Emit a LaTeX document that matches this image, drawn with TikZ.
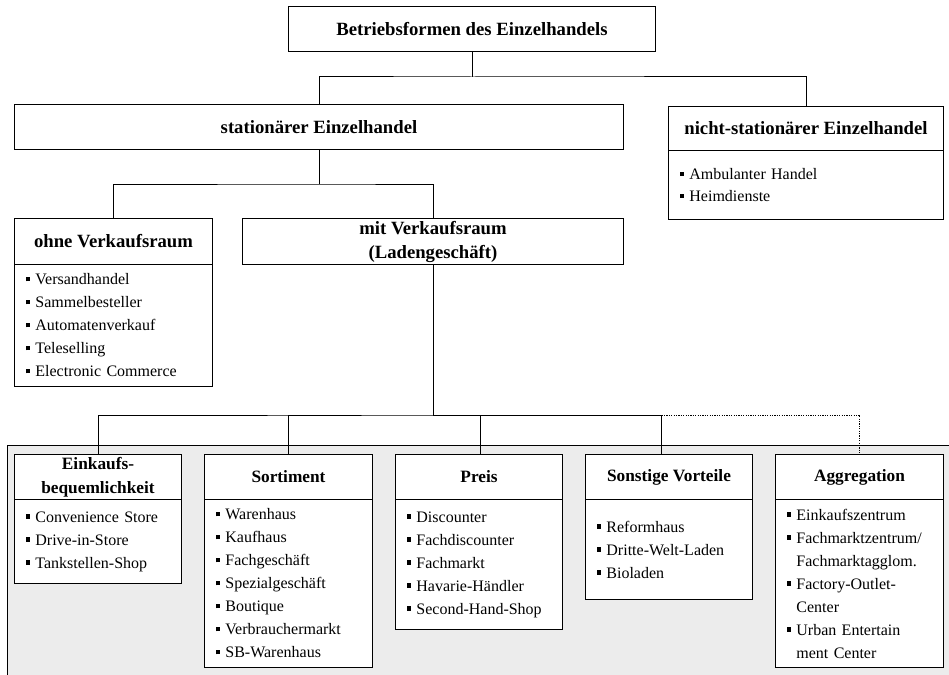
\documentclass[tikz,border=0pt]{standalone}
\usepackage{fontspec}
\setmainfont{Liberation Serif}
\definecolor{panelgray}{RGB}{236,236,236}
% small square bullet followed by its gap
\newcommand\bul{\makebox[0.62em][l]{\rule[0.22em]{0.27em}{0.27em}}}
\newcommand\ind{\hspace*{0.62em}}
\begin{document}
\begin{tikzpicture}[x=1pt,y=-1pt,
  frame/.style={line width=1pt},
  head/.style={draw, line width=1pt, fill=white, inner sep=0pt, anchor=north west,
    align=center, font=\fontsize{18.7}{24}\selectfont\bfseries},
  subhead/.style={head, font=\fontsize{17.3}{24}\selectfont\bfseries},
  list/.style={draw, line width=1pt, fill=white, inner xsep=11pt, inner ysep=0pt,
    anchor=north west, align=left, font=\fontsize{16}{23}\selectfont},
  link/.style={line width=1pt},
  maybe/.style={line width=0.8pt, dash pattern=on 1.2pt off 1.2pt}]
\clip (0,0) rectangle (949,674);
\fill[white] (0,0) rectangle (949,674);

% shaded panel behind the store-type groups
\draw[frame, fill=panelgray] (7,445) rectangle (970,700);

% top levels
\node[head, minimum width=367pt, minimum height=45pt] (top) at (288,6) {Betriebsformen des Einzelhandels};
\node[head, minimum width=609pt, minimum height=45pt] (stat) at (14,104) {stationärer Einzelhandel};
\node[head, minimum width=275pt, minimum height=44pt] (nicht) at (668,106) {nicht-stationärer Einzelhandel};
\node[list, text width=253pt, minimum height=69pt, font=\fontsize{16}{22}\selectfont] (nichtL) at (668,150)
  {\bul Ambulanter Handel\\\bul Heimdienste};

\node[head, minimum width=198pt, minimum height=46pt] (ohne) at (14,218) {ohne Verkaufsraum};
\node[list, text width=176pt, minimum height=122pt] (ohneL) at (14,264)
  {\bul Versandhandel\\\bul Sammelbesteller\\\bul Automatenverkauf\\\bul Teleselling\\\bul Electronic Commerce};
\node[head, minimum width=381pt, minimum height=46pt] (mit) at (242,218) {mit Verkaufsraum\\(Ladengeschäft)};

% store-type groups
\node[subhead, minimum width=167pt, minimum height=45pt] (ek) at (14,454) {Einkaufs-\\bequemlichkeit};
\node[list, text width=145pt, minimum height=84pt] (ekL) at (14,499)
  {\bul Convenience Store\\\bul Drive-in-Store\\\bul Tankstellen-Shop};

\node[subhead, minimum width=168pt, minimum height=45pt] (so) at (204,454) {Sortiment};
\node[list, text width=146pt, minimum height=168pt] (soL) at (204,499)
  {\bul Warenhaus\\\bul Kaufhaus\\\bul Fachgeschäft\\\bul Spezialgeschäft\\\bul Boutique\\\bul Verbrauchermarkt\\\bul SB-Warenhaus};

\node[subhead, minimum width=167pt, minimum height=45pt] (pr) at (395,454) {Preis};
\node[list, text width=145pt, minimum height=130pt] (prL) at (395,499)
  {\bul Discounter\\\bul Fachdiscounter\\\bul Fachmarkt\\\bul Havarie-Händler\\\bul Second-Hand-Shop};

\node[subhead, minimum width=167pt, minimum height=45pt] (sv) at (585,454) {Sonstige Vorteile};
\node[list, text width=145pt, minimum height=100pt] (svL) at (585,499)
  {\bul Reformhaus\\\bul Dritte-Welt-Laden\\\bul Bioladen};

\node[subhead, minimum width=168pt, minimum height=45pt] (ag) at (775,454) {Aggregation};
\node[list, text width=146pt, minimum height=168pt] (agL) at (775,499)
  {\bul Einkaufszentrum\\\bul Fachmarktzentrum/\\\ind Fachmarktagglom.\\\bul Factory-Outlet-\\\ind Center\\\bul Urban Entertain\\\ind ment Center};

% connectors
\coordinate (b1) at (top.south |- 0,77);
\draw[link] (top.south) -- (b1);
\draw[link] (stat.north) |- (b1) -| (nicht.north);

\coordinate (b2) at (stat.south |- 0,184);
\draw[link] (stat.south) -- (b2);
\draw[link] (ohne.north) |- (b2) -| (mit.north);

\coordinate (b3) at (mit.south |- 0,415);
\coordinate (svin) at ([xshift=-7.5pt]sv.north);
\draw[link] (mit.south) -- (b3);
\draw[link] (ek.north) |- (b3) -| (so.north);
\draw[link] (b3) -| ([xshift=1pt]pr.north);
\draw[link] (b3) -| (svin);
\draw[maybe] (svin |- b3) -| (ag.north);
\end{tikzpicture}
\end{document}
